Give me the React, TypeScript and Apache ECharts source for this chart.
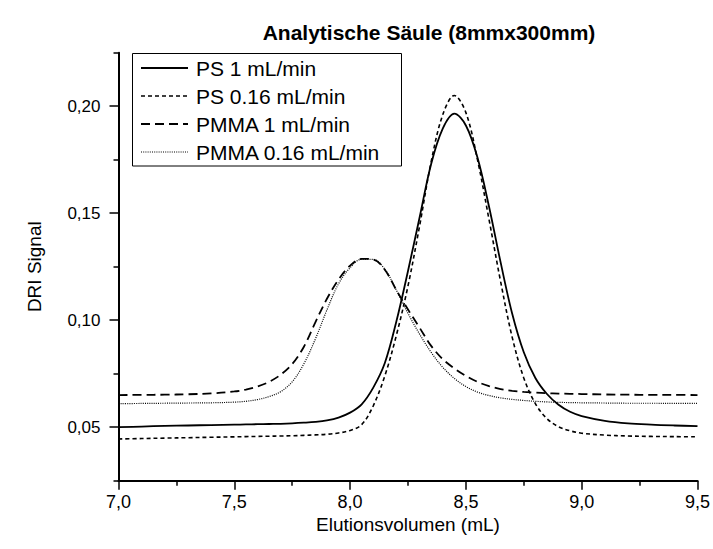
import React, { useEffect, useRef } from "react";
import * as echarts from "echarts";

// Elution volume (mL)
const X = [7.0, 7.1, 7.2, 7.3, 7.4, 7.5, 7.55, 7.6, 7.65, 7.7, 7.75, 7.8, 7.85, 7.9, 7.95, 8.0, 8.05, 8.1, 8.15, 8.2, 8.25, 8.3, 8.35, 8.4, 8.45, 8.5, 8.55, 8.6, 8.65, 8.7, 8.75, 8.8, 8.85, 8.9, 8.95, 9.0, 9.1, 9.2, 9.3, 9.4, 9.5];

const psFast = [0.0500, 0.0503, 0.0506, 0.0508, 0.0510, 0.0512, 0.0513, 0.0514, 0.0515, 0.0516, 0.0518, 0.0521, 0.0525, 0.0532, 0.0545, 0.0568, 0.0607, 0.0685, 0.0800, 0.0995, 0.1230, 0.1480, 0.1730, 0.1895, 0.1965, 0.1910, 0.1760, 0.1530, 0.1270, 0.1030, 0.0850, 0.0730, 0.0655, 0.0605, 0.0572, 0.0552, 0.0530, 0.0518, 0.0512, 0.0508, 0.0505];

const psSlow = [0.0445, 0.0447, 0.0449, 0.0451, 0.0453, 0.0455, 0.0456, 0.0457, 0.0458, 0.0459, 0.0460, 0.0462, 0.0464, 0.0467, 0.0473, 0.0485, 0.0512, 0.0600, 0.0740, 0.0930, 0.1160, 0.1440, 0.1740, 0.1960, 0.2050, 0.1970, 0.1750, 0.1470, 0.1180, 0.0920, 0.0730, 0.0610, 0.0540, 0.0502, 0.0483, 0.0472, 0.0463, 0.0459, 0.0457, 0.0456, 0.0455];

const pmmaFast = [0.0650, 0.0651, 0.0652, 0.0654, 0.0658, 0.0667, 0.0676, 0.0690, 0.0712, 0.0745, 0.0795, 0.0875, 0.0990, 0.1100, 0.1190, 0.1255, 0.1287, 0.1284, 0.1236, 0.1140, 0.1050, 0.0965, 0.0880, 0.0818, 0.0775, 0.0740, 0.0712, 0.0692, 0.0678, 0.0670, 0.0665, 0.0662, 0.0659, 0.0657, 0.0656, 0.0655, 0.0653, 0.0652, 0.0651, 0.0651, 0.0650];

const pmmaSlow = [0.0610, 0.0611, 0.0612, 0.0613, 0.0614, 0.0617, 0.0621, 0.0629, 0.0643, 0.0666, 0.0712, 0.0795, 0.0912, 0.1048, 0.1170, 0.1245, 0.1285, 0.1284, 0.1238, 0.1140, 0.1032, 0.0935, 0.0850, 0.0780, 0.0728, 0.0690, 0.0664, 0.0648, 0.0637, 0.0630, 0.0625, 0.0621, 0.0618, 0.0616, 0.0615, 0.0614, 0.0613, 0.0612, 0.0612, 0.0611, 0.0611];

const seriesNames = ["PS 1 mL/min", "PS 0.16 mL/min", "PMMA 1 mL/min", "PMMA 0.16 mL/min"];
const yMajorTicks = [0.05, 0.1, 0.15, 0.2];

const titleText = "Analytische Säule (8mmx300mm)";
const xName = "Elutionsvolumen (mL)";
const yName = "DRI Signal";

const FONT = "'Liberation Sans', Arial, Helvetica, sans-serif";

const lineStyles = [
  { width: 1.8, type: "solid" as any, dash: [] as number[] },
  { width: 1.6, type: [4, 3], dash: [4, 3] },
  { width: 1.8, type: [9, 5], dash: [9, 5] },
  { width: 1.2, type: [1, 1.2], dash: [1, 1.2] },
];

export default function App() {
  const ref = useRef<HTMLDivElement>(null);

  useEffect(() => {
    document.body.style.margin = "0";
    if (!ref.current) return;
    const chart = echarts.init(ref.current, undefined, { renderer: "svg" });
    const allData = [psFast, psSlow, pmmaFast, pmmaSlow];

    const legendX = 132.5;
    const legendY = 53.5;
    const rowY0 = 68;
    const rowStep = 28;

    const legendGraphics: any[] = [
      {
        type: "rect",
        z: 100,
        shape: { x: legendX, y: legendY, width: 269, height: 112.5 },
        style: { fill: "#fff", stroke: "#000", lineWidth: 1 },
      },
    ];
    seriesNames.forEach((name, i) => {
      const y = rowY0 + i * rowStep;
      legendGraphics.push({
        type: "line",
        z: 101,
        shape: { x1: 141, y1: y, x2: 188, y2: y },
        style: { stroke: "#000", lineWidth: lineStyles[i].width, lineDash: lineStyles[i].dash.length ? lineStyles[i].dash : null },
      });
      legendGraphics.push({
        type: "text",
        z: 101,
        x: 196,
        y: y,
        style: { text: name, fontSize: 21, fontFamily: FONT, fill: "#000", verticalAlign: "middle", align: "left" },
      });
    });

    const option: any = {
      animation: false,
      backgroundColor: "#fff",
      grid: { left: 118.5, right: 14.5, top: 52.7, bottom: 68.3 },
      xAxis: {
        type: "value",
        min: 7,
        max: 9.5,
        interval: 0.5,
        name: xName,
        nameLocation: "middle",
        nameGap: 34,
        nameMoveOverlap: false,
        nameTextStyle: { fontSize: 19, fontFamily: FONT, color: "#000" },
        axisLine: { show: true, onZero: false, lineStyle: { color: "#000", width: 2 } },
        axisTick: { show: true, length: 9, lineStyle: { color: "#000", width: 1.5 } },
        minorTick: { show: true, splitNumber: 2, length: 5, lineStyle: { color: "#000", width: 1.5 } },
        axisLabel: {
          fontSize: 18,
          fontFamily: FONT,
          color: "#000",
          margin: 12,
          formatter: (v: number) => v.toFixed(1).replace(".", ","),
        },
        splitLine: { show: false },
      },
      yAxis: [
        {
          type: "value",
          min: 0.025,
          max: 0.225,
          interval: 0.025,
          name: yName,
          nameLocation: "middle",
          nameGap: 75,
          nameMoveOverlap: false,
          nameTextStyle: { fontSize: 19, fontFamily: FONT, color: "#000" },
          axisLine: { show: true, onZero: false, lineStyle: { color: "#000", width: 2 } },
          axisTick: { show: true, length: 9, customValues: yMajorTicks, lineStyle: { color: "#000", width: 1.5 } },
          axisLabel: {
            fontSize: 17,
            fontFamily: FONT,
            color: "#000",
            margin: 18,
            customValues: yMajorTicks,
            formatter: (v: number) => {
              const k = v * 20;
              if (Math.abs(k - Math.round(k)) > 1e-6) return "";
              return v.toFixed(2).replace(".", ",");
            },
          },
          splitLine: { show: false },
        },
        {
          type: "value",
          min: 0.025,
          max: 0.225,
          interval: 0.05,
          position: "left",
          axisLine: { show: false },
          axisTick: { show: true, length: 5, lineStyle: { color: "#000", width: 1.5 } },
          axisLabel: { show: false },
          splitLine: { show: false },
        },
      ],
      graphic: [
        {
          type: "text",
          x: 429,
          y: 32,
          style: {
            text: titleText,
            fontSize: 21,
            fontWeight: "bold",
            fontFamily: FONT,
            fill: "#000",
            align: "center",
            verticalAlign: "middle",
          },
        },
        ...legendGraphics,
      ],
      series: seriesNames.map((name, i) => ({
        name,
        type: "line",
        yAxisIndex: 0,
        data: X.map((x, j) => [x, allData[i][j]]),
        symbol: "none",
        showSymbol: false,
        smooth: 0.35,
        lineStyle: { color: "#000", width: lineStyles[i].width, type: lineStyles[i].type },
        z: 2,
      })),
    };

    chart.setOption(option);
    return () => {
      chart.dispose();
    };
  }, []);

  return <div ref={ref} style={{ width: 713, height: 549, position: "absolute", left: 0, top: 0 }} />;
}
